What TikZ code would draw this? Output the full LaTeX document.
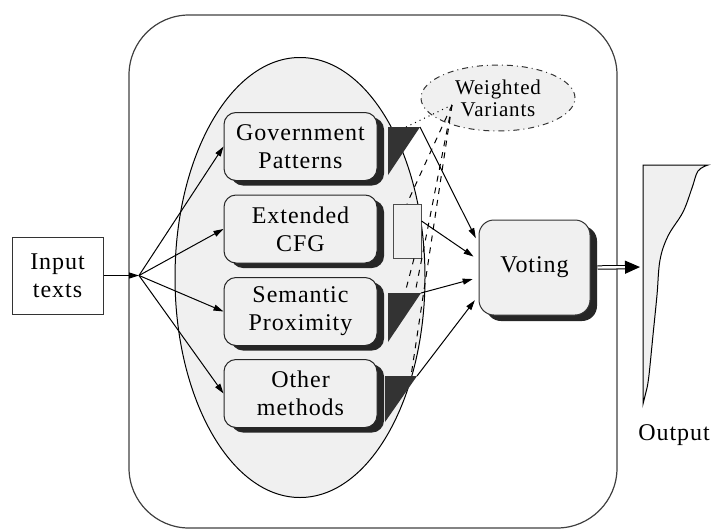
\documentclass[tikz,border=0pt]{standalone}
\usepackage{fontspec}
\setmainfont{Liberation Serif}[LetterSpace=4]
\usetikzlibrary{arrows.meta,shadows,shapes.geometric}
\definecolor{lightfill}{HTML}{F0F0F0}
\definecolor{darkfill}{HTML}{333333}
\tikzset{
  methodbox/.style={draw=black!85, fill=lightfill, rounded corners=6pt,
    minimum width=76.5pt, minimum height=34pt, align=center,
    font=\fontsize{12}{14}\selectfont,
    drop shadow={shadow xshift=3.5pt, shadow yshift=-2.5pt, fill=black!85, opacity=1}},
  arr/.style={-{Triangle[length=5pt,width=3pt]}},
  wedge/.style={fill=darkfill},
}

\begin{document}
\begin{tikzpicture}[x=0.5pt,y=-0.5pt,line width=0.5pt]
        \useasboundingbox (0,0) rectangle (711,530);
        % outer frame and the ellipse round the methods
        \draw[black!75, line width=0.6pt, rounded corners=30pt] (129,15) rectangle (617,528);
        \draw[fill=lightfill] (300,277.5) ellipse [x radius=62.5pt, y radius=110pt];
        \node[draw=black!80, minimum width=45.5pt, minimum height=38.5pt, align=center,
              font=\fontsize{12}{14}\selectfont] (input) at (57.5,275.5) {Input\\texts};
        \coordinate (hub) at (139,275.5);
        \node[methodbox] (gov) at (300.5,146.5) {Government\\Patterns};
        \node[methodbox] (ext) at (300.5,229) {Extended\\CFG};
        \node[methodbox] (sem) at (300.5,311.5) {Semantic\\Proximity};
        \node[methodbox] (oth) at (300.5,393.5) {Other\\methods};
        % wedges beside the methods
        \coordinate (gA) at (388,127); \coordinate (gB) at (420,127); \coordinate (gC) at (388,175);
        \coordinate (sA) at (388,293); \coordinate (sB) at (421,293); \coordinate (sC) at (388,342);
        \coordinate (oA) at (385,376); \coordinate (oB) at (417,376); \coordinate (oC) at (385,422);
        \fill[wedge] (gA)--(gB)--(gC)--cycle;
        \fill[wedge] (sA)--(sB)--(sC)--cycle;
        \fill[wedge] (oA)--(oB)--(oC)--cycle;
        \node[draw=black!70, fill=lightfill, minimum width=14pt, minimum height=27pt,
              inner sep=0pt] (extw) at (407,231) {};
        \node[draw=black!80, rounded corners=7.5pt, fill=lightfill, minimum width=55.5pt,
              minimum height=47.5pt, font=\fontsize{12}{14}\selectfont,
              drop shadow={shadow xshift=3.5pt, shadow yshift=-3pt, fill=black!85, opacity=1}]
              (voting) at (534.5,267.5) {Voting};
        \node[ellipse, draw=black!80, dash dot, fill=lightfill, minimum width=77pt,
              minimum height=33pt, inner sep=0pt, align=center,
              font=\fontsize{10.5}{11}\selectfont] (wv) at (498,98) {Weighted\\Variants};
        \coordinate (wvp) at (452,105);
        % weights given to the variants
        \coordinate (gT) at (406,127); \coordinate (sT) at (415,293);
        \coordinate (sL) at (405,293); \coordinate (oT) at (411,376);
        \draw[dotted] (wvp) -- (gT);
        \draw[dashed] (wvp) -- (extw.north);
        \draw[dashed] (wvp) -- (sT);
        \draw[dashed] (wvp) -- (oT);
        \draw[dashed] ([xshift=3.5pt]extw.south) -- (sL);
        % input to the methods
        \draw[arr] (input) -- (hub);
        \draw[arr] (hub) -- (gov.west);
        \draw[arr] (hub) -- (ext.west);
        \draw[arr] (hub) -- (sem.west);
        \draw[arr] (hub) -- (oth.west);
        % methods to voting
        \draw[arr, shorten >=3pt] (gB) -- ([yshift=12pt]voting.west);
        \draw[arr, shorten >=3pt] ([yshift=5pt]extw.east) -- ([yshift=3.75pt]voting.west);
        \draw[arr, shorten >=3pt] (sB) -- ([yshift=-5pt]voting.west);
        \draw[arr, shorten >=3pt] (oB) -- ([yshift=-14pt]voting.west);
        % output
        \coordinate (outl) at (643,267);
        \draw[fill=lightfill] (643,165) -- (708,165) -- plot[smooth, tension=0.6] coordinates
              {(708,165) (698,171) (692,188) (683,212) (668,236) (660,260) (657,295)
               (653,335) (649,375) (647,388)} -- (643,404) -- cycle;
        \draw[double, double distance=1.2pt, -{Triangle[length=7.5pt,width=6.5pt]},
              shorten >=1.5pt] ([xshift=3.5pt]voting.east) -- (outl);
        \node[font=\fontsize{12}{14}\selectfont] (outtxt) at (674,435) {Output};
\end{tikzpicture}
\end{document}
